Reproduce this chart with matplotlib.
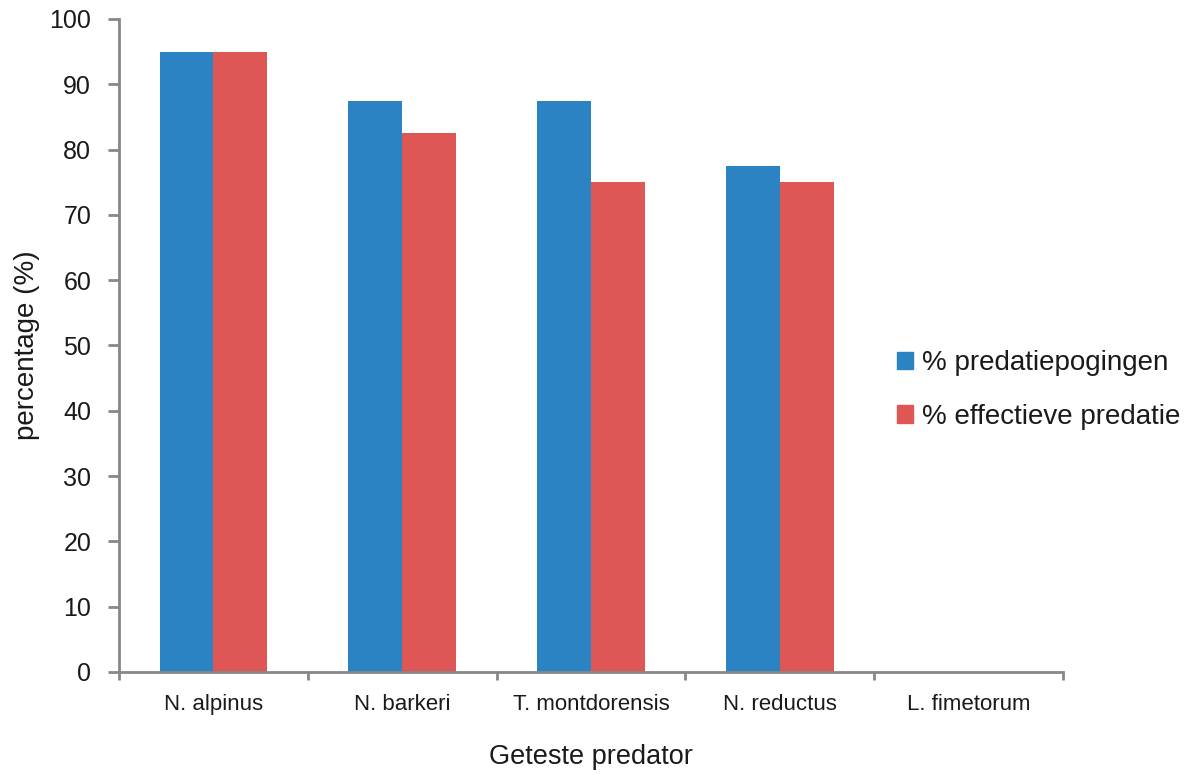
import matplotlib
matplotlib.use("Agg")
import matplotlib.pyplot as plt
import numpy as np
from matplotlib.patches import Patch

categories = ["N. alpinus", "N. barkeri", "T. montdorensis", "N. reductus", "L. fimetorum"]
pogingen = [95, 87.5, 87.5, 77.5, 0]
effectief = [95, 82.5, 75, 75, 0]
series_names = ["% predatiepogingen", "% effectieve predatie"]
yticks = [0, 10, 20, 30, 40, 50, 60, 70, 80, 90, 100]

plt.rcParams['font.family'] = ['Liberation Sans', 'DejaVu Sans']
blue = "#2B83C3"
red = "#DF5755"
grey = "#878787"

fig = plt.figure(figsize=(11.89, 7.74), dpi=100)
ax = fig.add_axes([0.1001, 0.1318, 0.794, 0.8437])

x = np.arange(len(categories))
w = 0.285
ax.bar(x - w/2, pogingen, width=w, color=blue, label=series_names[0])
ax.bar(x + w/2, effectief, width=w, color=red, label=series_names[1])

ax.set_xlim(-0.5, len(categories) - 0.5)
ax.set_ylim(0, 100)
ax.set_yticks(yticks)
ax.tick_params(axis='y', direction='out', length=8, width=2, color=grey, labelsize=18, pad=12,
               labelcolor="#1a1a1a")

ax.set_xticks(np.arange(len(categories) + 1) - 0.5)
ax.set_xticklabels([])
ax.tick_params(axis='x', which='major', direction='out', length=6, width=2, color=grey)
ax.set_xticks(x, minor=True)
ax.set_xticklabels(categories, minor=True)
ax.tick_params(axis='x', which='minor', length=0, labelsize=16, pad=16, labelcolor="#1a1a1a")

for s in ['top', 'right']:
    ax.spines[s].set_visible(False)
for s in ['left', 'bottom']:
    ax.spines[s].set_color(grey)
    ax.spines[s].set_linewidth(2)

ax.set_ylabel("percentage (%)", fontsize=20, labelpad=7, color="#1a1a1a")
ax.set_xlabel("Geteste predator", fontsize=19.5, labelpad=21, color="#1a1a1a")

handles = [Patch(color=blue), Patch(color=red)]
fig.legend(handles, series_names, loc='center left', bbox_to_anchor=(0.733, 0.496),
           frameon=False, fontsize=20, handlelength=0.6, handleheight=0.6,
           handletextpad=0.3, labelspacing=1.0, labelcolor="#1a1a1a")

fig.savefig("out.png", dpi=100)
